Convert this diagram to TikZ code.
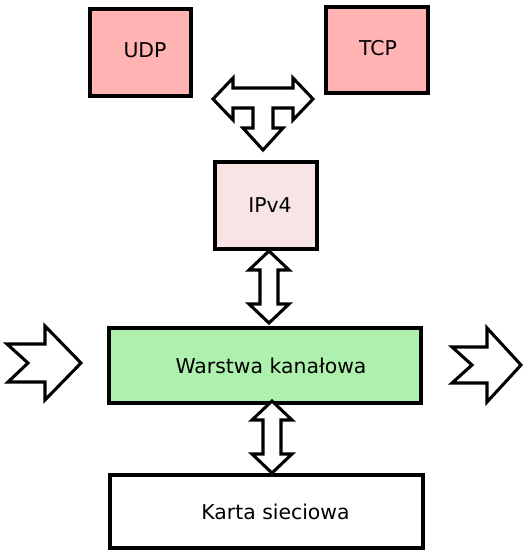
\documentclass[tikz,border=0pt]{standalone}
\usepackage{fontspec}
\setmainfont{DejaVu Sans}
\definecolor{protored}{HTML}{FFB3B3}
\definecolor{ippink}{HTML}{F8E4E4}
\definecolor{linkgreen}{HTML}{AEF0AE}
\tikzset{
    layer/.style={draw, line width=2.4pt, inner sep=0pt},
    every label/.style={font=\fontsize{15.3}{18}\selectfont, inner sep=0pt},
    blockarrow/.style={draw, fill=white, line width=2.3pt}
}
\newcommand{\vblockarrow}[3]{% x, top tip, bottom tip
    \draw[blockarrow] (#1,#2) -- ++(20,19) -- ++(-11,0) -- (#1+9,#3-19) -- ++(11,0)
        -- (#1,#3) -- ++(-20,-19) -- ++(11,0) -- (#1-9,#2+19) -- ++(-11,0) -- cycle;}
\begin{document}
\begin{tikzpicture}[x=0.75pt, y=-0.75pt]
        \useasboundingbox (0,0) rectangle (522,550);

        % Transport protocols
        \node[layer, fill=protored, minimum width=101*0.75pt, minimum height=87*0.75pt,
            label={[xshift=4.5*0.75pt, yshift=2*0.75pt]center:UDP}] (udp) at (140.5,52.5) {};
        \node[layer, fill=protored, minimum width=102*0.75pt, minimum height=86*0.75pt,
            label={[xshift=1*0.75pt, yshift=2*0.75pt]center:TCP}] (tcp) at (377,50) {};

        % Joint arrow down to IP
        \draw[blockarrow] (213,99) -- (233,78) -- (233,88) -- (293,88) -- (293,78) -- (313,99)
            -- (293,120) -- (293,108) -- (273,108) -- (273,128) -- (283,128) -- (263,150)
            -- (243,128) -- (253,128) -- (253,108) -- (233,108) -- (233,120) -- cycle;

        % Network layer
        \node[layer, fill=ippink, minimum width=102*0.75pt, minimum height=87*0.75pt,
            label={[xshift=4*0.75pt]center:IPv4}] (ipv4) at (266,205.5) {};
        \vblockarrow{269}{251}{323}

        % Link layer with incoming and outgoing frames
        \node[layer, fill=linkgreen, minimum width=312*0.75pt, minimum height=75*0.75pt,
            label={[xshift=6*0.75pt]center:Warstwa kanałowa}] (link) at (265,365.5) {};
        \draw[blockarrow] (7,344) -- (45,344) -- (45,326) -- (81,363) -- (45,400) -- (45,382)
            -- (8,382) -- (28,363) -- cycle;
        \draw[blockarrow] (452,347) -- (487,347) -- (487,328) -- (521,365) -- (487,402) -- (487,383)
            -- (452,383) -- (472,365) -- cycle;
        \vblockarrow{272}{401}{473}

        % Hardware
        \node[layer, fill=white, minimum width=313*0.75pt, minimum height=73*0.75pt,
            label={[xshift=9*0.75pt]center:Karta sieciowa}] (card) at (266.5,511.5) {};
\end{tikzpicture}
\end{document}
